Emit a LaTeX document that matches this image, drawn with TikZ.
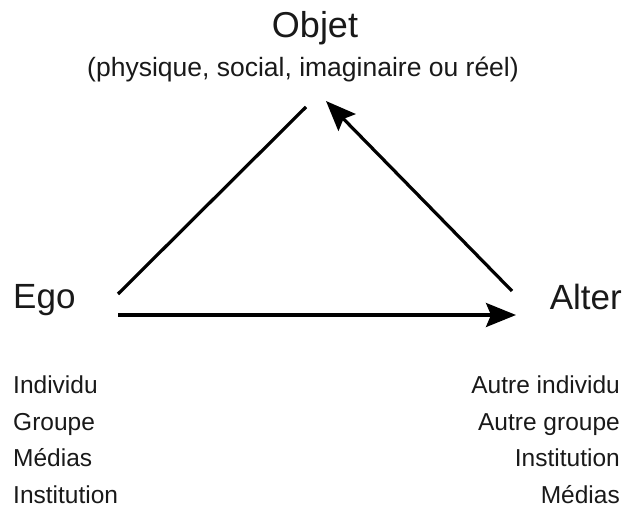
\documentclass[tikz,border=0pt]{standalone}
\usepackage{fontspec}
\setmainfont{Liberation Sans}
\usetikzlibrary{arrows.meta}
\begin{document}
\begin{tikzpicture}[x=1pt,y=-1pt,
  lbl/.style={inner sep=0pt, text=black!90},
  big/.style={lbl, font=\fontsize{35}{40}\selectfont},
  small/.style={lbl, font=\fontsize{24.5}{30}\selectfont},
  conn/.style={line width=3.2pt, black},
  arr/.style={conn, -{Stealth[length=30pt,width=24pt,inset=5pt]}}]
\useasboundingbox (0,0) rectangle (624,508);
% titles
\node[big, anchor=base, font=\fontsize{36}{40}\selectfont] (objet) at (315,38) {Objet};
\node[lbl, anchor=base, font=\fontsize{26.5}{30}\selectfont] (sub) at (303,77) {(physique, social, imaginaire ou réel)};
\node[big, anchor=base west] (ego) at (13,308) {Ego};
\node[big, anchor=base east] (alter) at (622,309) {Alter};
% lists
\node[small, anchor=base west] (l1) at (13,393) {Individu};
\node[small, anchor=base west] (l2) at (13,430) {Groupe};
\node[small, anchor=base west] (l3) at (13,466) {Médias};
\node[small, anchor=base west] (l4) at (13,503) {Institution};
\node[small, anchor=base east] (r1) at (620,393) {Autre individu};
\node[small, anchor=base east] (r2) at (620,430) {Autre groupe};
\node[small, anchor=base east] (r3) at (620,466) {Institution};
\node[small, anchor=base east] (r4) at (620,503) {Médias};
% connector end points
\coordinate (egoTop) at (118,294);
\coordinate (objL) at (306,107);
\coordinate (alterTop) at (512,291);
\coordinate (objR) at (326,101);
\coordinate (egoBot) at (118,315);
\coordinate (alterBot) at (516,315);
\draw[conn] (egoTop) -- (objL);
\draw[arr] (alterTop) -- (objR);
\draw[arr] (egoBot) -- (alterBot);
\end{tikzpicture}
\end{document}
